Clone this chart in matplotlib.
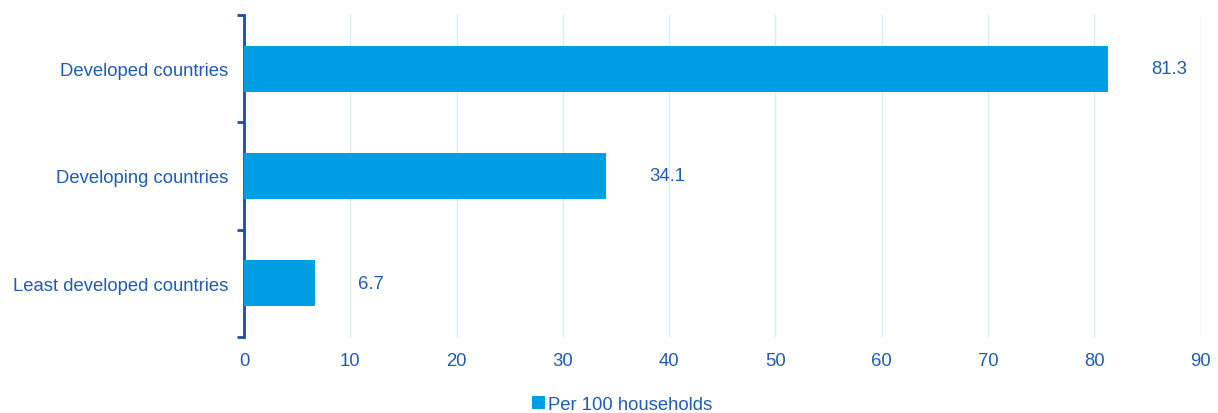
import matplotlib
matplotlib.use("Agg")
import matplotlib.pyplot as plt
from matplotlib.patches import Patch

categories = ["Developed countries", "Developing countries", "Least developed countries"]
values = [81.3, 34.1, 6.7]
series_name = "Per 100 households"
x_ticks = [0, 10, 20, 30, 40, 50, 60, 70, 80, 90]

bar_color = "#009fe3"
text_color = "#1f5bb5"
spine_color = "#1b4fa3"
grid_color = "#d6ecf8"
fs = 13.3

plt.rcParams["font.family"] = ["Liberation Sans", "DejaVu Sans"]

fig = plt.figure(figsize=(12.18, 4.14), dpi=100)
ax = fig.add_axes([0.2003, 0.1836, 0.7855, 0.7778])

pos = list(range(len(categories)))
ax.barh(pos, values, height=0.43, color=bar_color, zorder=3)

for p, v in zip(pos, values):
    ax.annotate(f"{v}", xy=(v, p), xytext=(31, 0), textcoords="offset points",
                va="center", ha="left", fontsize=fs, color=text_color)

ax.set_xlim(0, 90)
ax.set_ylim(len(categories) - 0.5, -0.5)
ax.set_xticks(x_ticks)
ax.set_xticklabels([str(t) for t in x_ticks])
ax.set_yticks(pos)
ax.set_yticklabels(categories)
ax.set_yticks([-0.5 + i for i in range(len(categories) + 1)], minor=True)

ax.grid(axis="x", color=grid_color, linewidth=1.0, zorder=0)
ax.set_axisbelow(True)

for s in ["top", "right", "bottom"]:
    ax.spines[s].set_visible(False)
ax.spines["left"].set_color(spine_color)
ax.spines["left"].set_linewidth(2)

ax.tick_params(axis="x", length=0, pad=11, labelsize=fs, labelcolor=text_color)
ax.tick_params(axis="y", which="major", length=0, pad=11, labelsize=fs, labelcolor=text_color)
ax.tick_params(axis="y", which="minor", length=5, width=2, color=spine_color)

handles = [Patch(facecolor=bar_color, label=series_name)]
fig.legend(handles=handles, loc="center", bbox_to_anchor=(0.511, 0.02), frameon=False,
           fontsize=fs, labelcolor=text_color, handlelength=0.7, handleheight=0.7,
           handletextpad=0.15)

fig.savefig("out.png", dpi=100)
